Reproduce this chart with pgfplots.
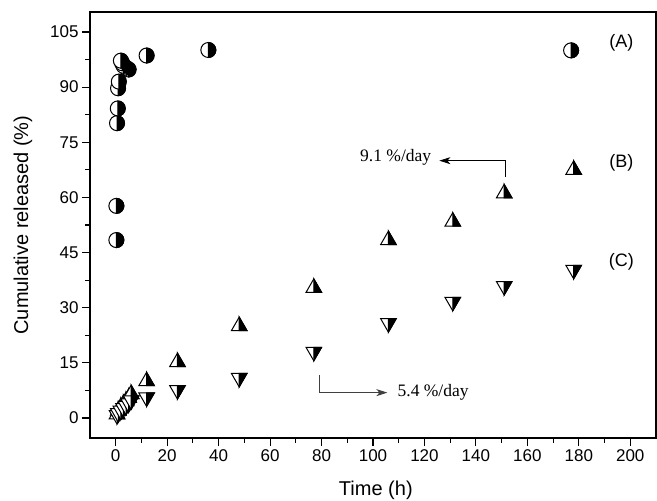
\documentclass[border=0pt]{standalone}
\usepackage{fontspec}
\setmainfont{Liberation Sans}
\newfontfamily\seriffont{Liberation Serif}
\usepackage{pgfplots}
\pgfplotsset{compat=1.18}
\usetikzlibrary{arrows.meta}

\pgfdeclareplotmark{halfcircle}{%
  \pgfpathcircle{\pgfpointorigin}{\pgfplotmarksize}%
  \pgfsetfillcolor{white}\pgfusepathqfillstroke
  \pgfpathmoveto{\pgfpoint{0pt}{\pgfplotmarksize}}%
  \pgfpatharc{90}{-90}{\pgfplotmarksize}%
  \pgfpathclose
  \pgfsetfillcolor{black}\pgfusepathqfillstroke
}
\pgfdeclareplotmark{halfup}{%
  \pgfpathmoveto{\pgfpoint{0pt}{\pgfplotmarksize}}%
  \pgfpathlineto{\pgfpoint{-0.866\pgfplotmarksize}{-0.5\pgfplotmarksize}}%
  \pgfpathlineto{\pgfpoint{0.866\pgfplotmarksize}{-0.5\pgfplotmarksize}}%
  \pgfpathclose
  \pgfsetfillcolor{white}\pgfusepathqfillstroke
  \pgfpathmoveto{\pgfpoint{0pt}{\pgfplotmarksize}}%
  \pgfpathlineto{\pgfpoint{0.866\pgfplotmarksize}{-0.5\pgfplotmarksize}}%
  \pgfpathlineto{\pgfpoint{0pt}{-0.5\pgfplotmarksize}}%
  \pgfpathclose
  \pgfsetfillcolor{black}\pgfusepathqfillstroke
}
\pgfdeclareplotmark{halfdown}{%
  \pgfpathmoveto{\pgfpoint{0pt}{-\pgfplotmarksize}}%
  \pgfpathlineto{\pgfpoint{-0.866\pgfplotmarksize}{0.5\pgfplotmarksize}}%
  \pgfpathlineto{\pgfpoint{0.866\pgfplotmarksize}{0.5\pgfplotmarksize}}%
  \pgfpathclose
  \pgfsetfillcolor{white}\pgfusepathqfillstroke
  \pgfpathmoveto{\pgfpoint{0pt}{-\pgfplotmarksize}}%
  \pgfpathlineto{\pgfpoint{0.866\pgfplotmarksize}{0.5\pgfplotmarksize}}%
  \pgfpathlineto{\pgfpoint{0pt}{0.5\pgfplotmarksize}}%
  \pgfpathclose
  \pgfsetfillcolor{black}\pgfusepathqfillstroke
}

\begin{document}
\begin{tikzpicture}
\useasboundingbox (-90pt,-63pt) rectangle (567pt,438pt);
\begin{axis}[
  scale only axis,
  width=566pt, height=426pt,
  xmin=-10, xmax=210,
  ymin=-5.44, ymax=110.44,
  xtick={0,20,...,200},
  ytick={0,15,...,105},
  minor x tick num=1,
  minor y tick num=1,
  xtick pos=left, ytick pos=left,
  tick align=outside,
  major tick length=8pt,
  minor tick length=4.5pt,
  axis line style={line width=1.2pt},
  every tick/.style={line width=1.1pt, black},
  /pgf/number format/assume math mode=true,
  ticklabel style={font=\fontsize{17}{19}\selectfont},
  xlabel={Time (h)},
  ylabel={Cumulative released (\%)},
  xlabel style={font=\fontsize{20}{22}\selectfont, at={(axis description cs:0.505,-0.122)}, anchor=center},
  ylabel style={font=\fontsize{20}{22}\selectfont, at={(axis description cs:-0.1184,0.5)}, anchor=center},
  clip=false,
]
% (A)
\addplot[only marks, mark=halfcircle, mark size=7.5pt, mark options={line width=1pt, draw=black}] coordinates {
(0.25,48.4) (0.25,57.7) (0.5,80.2) (0.8,84.2) (0.9,89.7) (1.2,91.5)
(5,94.8) (4,95.3) (3,95.8) (2.5,96.5) (2,97.2)
(12,98.6) (36,100.1) (177,100)
};
% (B)
\addplot[only marks, mark=halfup, mark size=9pt, mark options={line width=1pt, draw=black}] coordinates {
(0.5,1) (1,2) (2,3) (3,3.8) (4,4.6) (5,5.5) (6,6.5)
(12,10) (24,15.2) (48,25) (77,35.4) (106,48.4) (131,53.4) (151,61.1) (178,67.5)
};
% (C)
\addplot[only marks, mark=halfdown, mark size=9pt, mark options={line width=1pt, draw=black}] coordinates {
(0.5,0.8) (1,1.3) (2,2) (3,2.7) (4,3.3) (5,4) (6,4.8)
(12,5.6) (24,7.6) (48,10.9) (77,18) (106,25.8) (131,31.6) (151,35.9) (178,40.3)
};
% annotations
\draw[line width=0.9pt, -{Stealth[length=11pt,width=7pt,inset=3pt]}] (axis cs:151.5,65.6) -- (axis cs:151.5,70) -- (axis cs:125.8,70);
\node[anchor=east, font=\seriffont\fontsize{17.5}{19}\selectfont, inner sep=0pt] at (axis cs:122.7,70.8) {9.1 \%/day};
\draw[line width=0.9pt, black!75, -{Stealth[length=11pt,width=7pt,inset=3pt]}] (axis cs:79.2,11.7) -- (axis cs:79.2,6.9) -- (axis cs:105.6,6.9);
\node[anchor=west, font=\seriffont\fontsize{17.5}{19}\selectfont, inner sep=0pt] at (axis cs:109.5,6.9) {5.4 \%/day};
\node[font=\fontsize{18}{20}\selectfont] at (axis cs:196.5,102) {(A)};
\node[font=\fontsize{18}{20}\selectfont] at (axis cs:196.5,69.4) {(B)};
\node[font=\fontsize{18}{20}\selectfont] at (axis cs:196.5,42.4) {(C)};
\end{axis}
\end{tikzpicture}
\end{document}
